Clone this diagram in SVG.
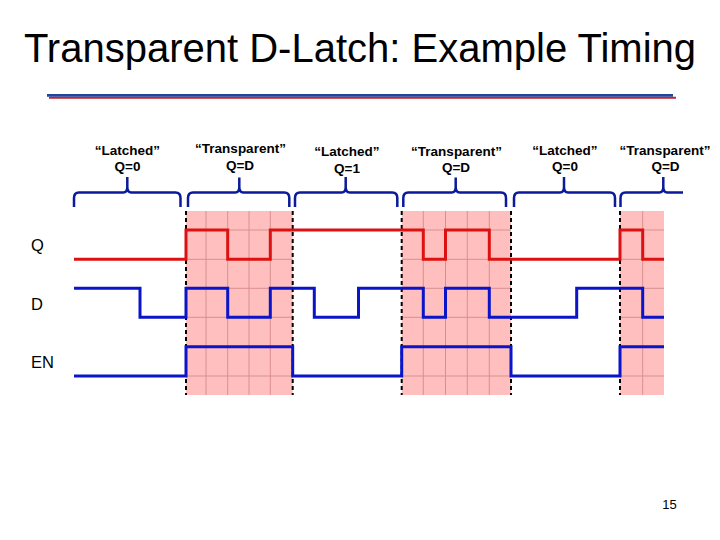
<svg xmlns="http://www.w3.org/2000/svg" width="720" height="540" viewBox="0 0 720 540">
<style>
.title{font-family:"Liberation Sans",Arial,sans-serif;font-size:40px;fill:#000}
.lab{font-family:"Liberation Sans",Arial,sans-serif;font-size:13.5px;font-weight:bold;fill:#000;text-anchor:middle}
.sig{font-family:"Liberation Sans",Arial,sans-serif;font-size:16.5px;fill:#000}
.pg{font-family:"Liberation Sans",Arial,sans-serif;font-size:13px;fill:#000;text-anchor:middle}
.brace{fill:none;stroke:#0a1a9a;stroke-width:2.5;stroke-linejoin:round}
.pink{fill:#ffbfbf}
.grid{stroke:#d98f8f;stroke-width:1;fill:none}
.dash{stroke:#000;stroke-width:2;stroke-dasharray:4 3;fill:none}
.red{fill:none;stroke:#dd1111;stroke-width:3;stroke-linejoin:miter}
.blue{fill:none;stroke:#0a14c8;stroke-width:3;stroke-linejoin:miter}
</style>
<rect width="720" height="540" fill="#fff"/>
<text class="title" x="360" y="62" text-anchor="middle">Transparent D-Latch: Example Timing</text>
<line x1="49" y1="97.8" x2="676" y2="97.8" stroke="#c8202a" stroke-width="2"/>
<line x1="47" y1="95.3" x2="673" y2="95.3" stroke="#23449b" stroke-width="2.8"/>

<g id="regions">
<rect class="pink" x="186" y="211" width="106.7" height="184"/>
<rect class="pink" x="401.7" y="211" width="109.3" height="184"/>
<rect class="pink" x="620" y="211" width="44" height="184"/>
<path class="grid" d="M206 211V395M227.7 211V395M249 211V395M270.3 211V395M423.3 211V395M445.5 211V395M467.3 211V395M489.3 211V395M642.7 211V395"/>
<path class="grid" d="M186 230H292.7M186 259.3H292.7M186 288.3H292.7M186 317.3H292.7M186 346.7H292.7M186 376H292.7M401.7 230H511M401.7 259.3H511M401.7 288.3H511M401.7 317.3H511M401.7 346.7H511M401.7 376H511M620 230H664M620 259.3H664M620 288.3H664M620 317.3H664M620 346.7H664M620 376H664"/>
<path class="dash" d="M186 211V395M292.7 211V395M401.7 211V395M511 211V395M620 211V395"/>
</g>

<g id="braces">
<path class="brace" d="M74 207V198Q74 192.5 79 192.5H123.3Q127.3 192.5 127.3 187V177M127.3 187Q127.3 192.5 131.3 192.5H175.5Q180.5 192.5 180.5 198V207"/>
<path class="brace" d="M188 207V198Q188 192.5 193 192.5H235.3Q239.3 192.5 239.3 187V177.5M239.3 187Q239.3 192.5 243.3 192.5H284.3Q289.3 192.5 289.3 198V207"/>
<path class="brace" d="M295 207V198Q295 192.5 300 192.5H341.7Q345.7 192.5 345.7 187V177M345.7 187Q345.7 192.5 349.7 192.5H392.3Q397.3 192.5 397.3 198V207"/>
<path class="brace" d="M403.3 207V198Q403.3 192.5 408.3 192.5H451.7Q455.7 192.5 455.7 187V177.5M455.7 187Q455.7 192.5 459.7 192.5H501Q506 192.5 506 198V207"/>
<path class="brace" d="M514 207V198Q514 192.5 519 192.5H560Q564 192.5 564 187V177M564 187Q564 192.5 568 192.5H610Q615 192.5 615 198V207"/>
<path class="brace" d="M620.5 207V198Q620.5 192.5 625.5 192.5H659.3Q663.3 192.5 663.3 187V177M663.3 187Q663.3 192.5 667.3 192.5H683"/>
</g>

<g id="labels">
<text class="lab" x="127.5" y="154.5">“Latched”</text>
<text class="lab" x="127.5" y="171">Q=0</text>
<text class="lab" x="240.5" y="152.8">“Transparent”</text>
<text class="lab" x="240" y="169.5">Q=D</text>
<text class="lab" x="347" y="156">“Latched”</text>
<text class="lab" x="347" y="172.5">Q=1</text>
<text class="lab" x="456.5" y="155.5">“Transparent”</text>
<text class="lab" x="456" y="172">Q=D</text>
<text class="lab" x="565" y="154.5">“Latched”</text>
<text class="lab" x="565" y="171">Q=0</text>
<text class="lab" x="665" y="155">“Transparent”</text>
<text class="lab" x="665.5" y="171">Q=D</text>
</g>

<g id="signal-names">
<text class="sig" x="31" y="250.5">Q</text>
<text class="sig" x="31" y="309.5">D</text>
<text class="sig" x="31" y="367.5">EN</text>
</g>

<g id="waveforms">
<path id="Q" class="red" d="M74 259.3H186V230H227.7V259.3H270.3V230H423.3V259.3H445.5V230H489.3V259.3H620V230H642.7V259.3H664"/>
<path id="D" class="blue" d="M74 288.3H140V317.3H186V288.3H227.7V317.3H270.3V288.3H314.3V317.3H358.5V288.3H423.3V317.3H445.5V288.3H489.3V317.3H576.7V288.3H642.7V317.3H664"/>
<path id="EN" class="blue" d="M74 376H186V346.7H292.7V376H401.7V346.7H511V376H620V346.7H664"/>
</g>

<text class="pg" x="669.5" y="508.5">15</text>
</svg>
